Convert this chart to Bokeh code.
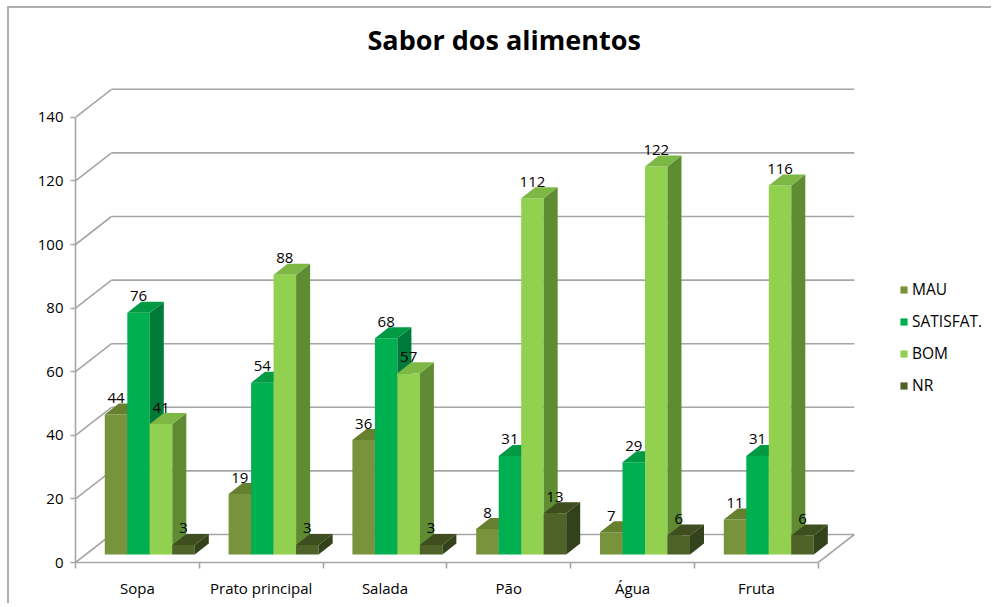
from bokeh.plotting import figure
from bokeh.models import Range1d, FixedTicker, Legend, LegendItem
from bokeh.embed import file_html
from bokeh.resources import INLINE
from bokeh.core.properties import value

# ---------------- data ----------------
title_text = "Sabor dos alimentos"
categories = ["Sopa", "Prato principal", "Salada", "Pão", "Água", "Fruta"]
series_names = ["MAU", "SATISFAT.", "BOM", "NR"]
mau = [44, 19, 36, 8, 7, 11]
satisfat = [76, 54, 68, 31, 29, 31]
bom = [41, 88, 57, 112, 122, 116]
nr = [3, 3, 3, 13, 6, 6]
y_ticks = [0, 20, 40, 60, 80, 100, 120, 140]

# ---------------- styles ----------------
front_colors = ["#77933C", "#00B050", "#92D050", "#4F6228"]
top_colors = ["#66802F", "#009A45", "#7DB845", "#3E4E1F"]
side_colors = ["#5A702B", "#007A38", "#5F8B33", "#33421A"]
grid_color = "#A6A6A6"
FONT = "Open Sans"

# ---------------- layout (pixels, page coordinates) ----------------
PAGE_X, PAGE_Y = 9, 8           # where the canvas starts (after css margin + border)
CANVAS_W, CANVAS_H = 984, 597
FRAME_LEFT, FRAME_TOP, FRAME_BOTTOM = 75, 62, 562
CAT_PX = 123.8      # pixels per category on the front plane
SY = 3.18           # pixels per value unit
ny = len(categories)

def dx(px):
    return px / CAT_PX

def dy(px):
    return px / SY

floor_dx, floor_dy = dx(36), dy(28)     # depth of the floor / back wall
bar_ox, bar_oy = dx(12.4), dy(8)        # front plane of the bars
bar_dx, bar_dy = dx(14), dy(11)         # depth of each bar
bar_w = dx(22.5)

x_end = (PAGE_X + CANVAS_W - FRAME_LEFT) / CAT_PX
y_end = (FRAME_BOTTOM - FRAME_TOP) / SY

p = figure(width=CANVAS_W, height=CANVAS_H, output_backend="svg", toolbar_location=None,
           x_range=Range1d(0, x_end), y_range=Range1d(0, y_end),
           min_border_left=FRAME_LEFT - PAGE_X, min_border_right=0,
           min_border_top=FRAME_TOP - PAGE_Y,
           min_border_bottom=PAGE_Y + CANVAS_H - FRAME_BOTTOM)
p.styles = {"margin-left": "7px", "margin-top": "6px",
            "border-left": "2px solid #B0B0B0", "border-top": "2px solid #B0B0B0"}
p.outline_line_color = None
p.grid.visible = False
p.background_fill_color = "white"
p.border_fill_color = "white"

# ---------------- walls / gridlines ----------------
gx0, gx1, gy = [], [], []
for t in y_ticks:
    gx0.append(floor_dx)
    gx1.append(ny + floor_dx)
    gy.append(t + floor_dy)
p.segment(x0=gx0, y0=gy, x1=gx1, y1=gy, line_color=grid_color, line_width=1.6)
p.segment(x0=[0] * len(y_ticks), y0=y_ticks, x1=[floor_dx] * len(y_ticks),
          y1=[t + floor_dy for t in y_ticks], line_color=grid_color, line_width=1.6)
# floor right edge
p.segment(x0=[ny], y0=[0], x1=[ny + floor_dx], y1=[floor_dy], line_color=grid_color, line_width=1.6)

# ---------------- 3D bars ----------------
all_series = [mau, satisfat, bom, nr]
legend_items = []
for j, vals in enumerate(all_series):
    lefts = [i + 0.5 - 2 * bar_w + j * bar_w + bar_ox for i in range(ny)]
    rights = [l + bar_w for l in lefts]
    bottoms = [bar_oy] * ny
    tops = [v + bar_oy for v in vals]
    r = p.quad(left=lefts, right=rights, bottom=bottoms, top=tops,
               fill_color=front_colors[j], line_color=None)
    side_xs = [[rt, rt + bar_dx, rt + bar_dx, rt] for rt in rights]
    side_ys = [[b, b + bar_dy, tp + bar_dy, tp] for b, tp in zip(bottoms, tops)]
    p.patches(xs=side_xs, ys=side_ys, fill_color=side_colors[j], line_color=None)
    top_xs = [[l, rt, rt + bar_dx, l + bar_dx] for l, rt in zip(lefts, rights)]
    top_ys = [[tp, tp, tp + bar_dy, tp + bar_dy] for tp in tops]
    p.patches(xs=top_xs, ys=top_ys, fill_color=top_colors[j], line_color=None)
    legend_items.append(LegendItem(label=series_names[j], renderers=[r]))

# data labels
for j, vals in enumerate(all_series):
    cx = [i + 0.5 - 2 * bar_w + (j + 0.5) * bar_w + bar_ox for i in range(ny)]
    ly = [v + bar_oy + bar_dy + dy(0.5) for v in vals]
    p.text(x=cx, y=ly, text=[str(v) for v in vals], text_align="center",
           text_baseline="bottom", text_font=value(FONT), text_font_size="15px",
           text_color="#000000")

# ---------------- axes ----------------
p.yaxis.ticker = FixedTicker(ticks=y_ticks)
p.yaxis.bounds = (0, y_ticks[-1])
p.yaxis.axis_line_color = grid_color
p.yaxis.axis_line_width = 1.6
p.yaxis.major_tick_line_color = grid_color
p.yaxis.major_tick_line_width = 1.6
p.yaxis.major_tick_out = 5
p.yaxis.major_tick_in = 0
p.yaxis.minor_tick_line_color = None
p.yaxis.major_label_standoff = 7
p.yaxis.major_label_text_font = FONT
p.yaxis.major_label_text_font_size = "15px"
p.yaxis.major_label_text_color = "#000000"

p.xaxis.ticker = FixedTicker(ticks=[i + 0.5 for i in range(ny)],
                             minor_ticks=list(range(ny + 1)))
p.xaxis.major_label_overrides = {i + 0.5: c for i, c in enumerate(categories)}
p.xaxis.bounds = (0, ny)
p.xaxis.axis_line_color = grid_color
p.xaxis.axis_line_width = 1.6
p.xaxis.major_tick_line_color = None
p.xaxis.major_tick_out = 6
p.xaxis.minor_tick_line_color = grid_color
p.xaxis.minor_tick_line_width = 1.6
p.xaxis.minor_tick_out = 6
p.xaxis.minor_tick_in = 0
p.xaxis.major_label_standoff = 9
p.xaxis.major_label_text_font = FONT
p.xaxis.major_label_text_font_size = "15px"
p.xaxis.major_label_text_color = "#000000"

# ---------------- legend ----------------
legend = Legend(items=legend_items, location=(899 - FRAME_LEFT, FRAME_BOTTOM - 396),
                orientation="vertical", padding=0, margin=0, spacing=10,
                glyph_width=9, glyph_height=9, label_height=20, label_standoff=4,
                label_text_font=FONT, label_text_font_size="15.5px",
                label_text_color="#000000",
                border_line_color=None, background_fill_alpha=0)
p.add_layout(legend, "center")

# ---------------- title ----------------
p.title.text = title_text
p.title.align = "left"
p.title.offset = 367 - FRAME_LEFT
p.title.text_font = FONT
p.title.text_font_style = "bold"
p.title.text_font_size = "27px"
p.title.text_color = "#000000"

open("out.html", "w").write(file_html(p, INLINE))
